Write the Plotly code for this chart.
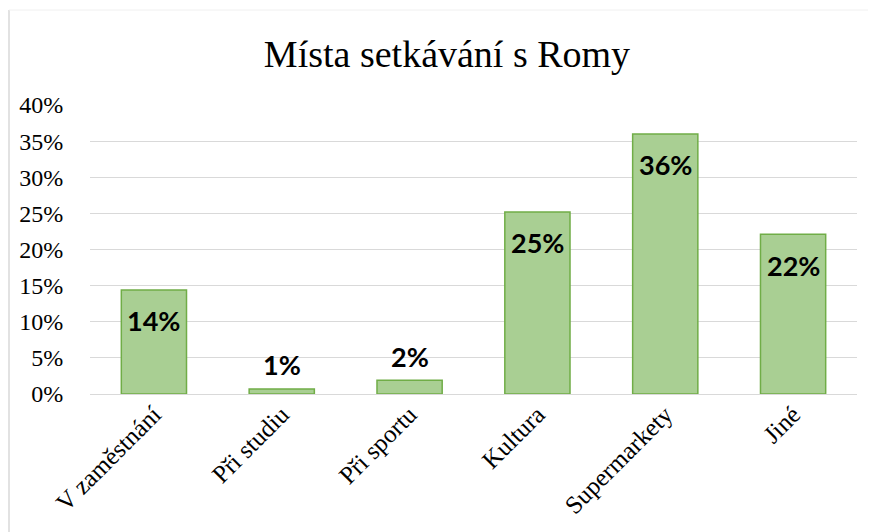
import plotly.graph_objects as go

categories = ["V zaměstnání", "Při studiu", "Při sportu", "Kultura", "Supermarkety", "Jiné"]
values = [0.144, 0.007, 0.019, 0.252, 0.360, 0.221]
labels = ["14%", "1%", "2%", "25%", "36%", "22%"]
label_inside = [True, False, False, True, True, True]
y_ticks = [0, 0.05, 0.10, 0.15, 0.20, 0.25, 0.30, 0.35, 0.40]
y_tick_labels = ["0%", "5%", "10%", "15%", "20%", "25%", "30%", "35%", "40%"]

SERIF = "Liberation Serif, DejaVu Serif, serif"

# page body has an 8px default margin; figure is laid out to compensate
OFF = 8
W, H = 876 - OFF, 532 - OFF
L, R, T, B = 90 - OFF, 19, 105 - OFF, 138
pw, ph = W - L - R, H - T - B

fig = go.Figure()
fig.add_trace(go.Bar(
    x=categories, y=values,
    marker=dict(color="#a9cf93", line=dict(color="#70ad47", width=1.5)),
    width=0.51,
    hoverinfo="skip",
))

for c, v, t, ins in zip(categories, values, labels, label_inside):
    fig.add_annotation(
        x=c, y=v, xref="x", yref="y", text=f"<b>{t}</b>", showarrow=False,
        yshift=-31 if ins else 24, yanchor="middle",
        font=dict(family="Lato", size=27, color="#000000"),
    )

# chart-area border (left and top)
fig.add_shape(type="line", xref="paper", yref="paper",
              x0=(1 - L) / pw, x1=(1 - L) / pw,
              y0=(H - B - H - 10) / ph, y1=(H - B - 2) / ph,
              line=dict(color="#d9d9d9", width=1.5))
fig.add_shape(type="line", xref="paper", yref="paper",
              x0=(1 - L) / pw, x1=(W + 5 - L) / pw,
              y0=(H - B - 2) / ph, y1=(H - B - 2) / ph,
              line=dict(color="#f0f0f0", width=1))

fig.update_layout(
    width=W, height=H,
    margin=dict(l=L, r=R, t=T, b=B, autoexpand=False),
    paper_bgcolor="white", plot_bgcolor="white",
    showlegend=False,
    title=dict(text="Místa setkávání s Romy",
               font=dict(family=SERIF, size=38, color="#000000"),
               x=(447 - 90) / pw, xref="paper", xanchor="center",
               y=1 - (54 - OFF) / H, yref="container", yanchor="middle"),
    xaxis=dict(
        tickangle=-45, automargin=False,
        tickfont=dict(family=SERIF, size=25, color="#000000"),
        showgrid=False, showline=False, ticks="",
    ),
    yaxis=dict(
        range=[0, 0.40], automargin=False,
        tickvals=y_ticks, ticktext=y_tick_labels,
        tickfont=dict(family=SERIF, size=24, color="#000000"),
        showgrid=True, gridcolor="#d9d9d9", gridwidth=1.3,
        zeroline=True, zerolinecolor="#d9d9d9", zerolinewidth=1.3,
        showline=False, ticks="outside", ticklen=21, tickcolor="rgba(0,0,0,0)",
    ),
)

fig.write_html("out.html")
